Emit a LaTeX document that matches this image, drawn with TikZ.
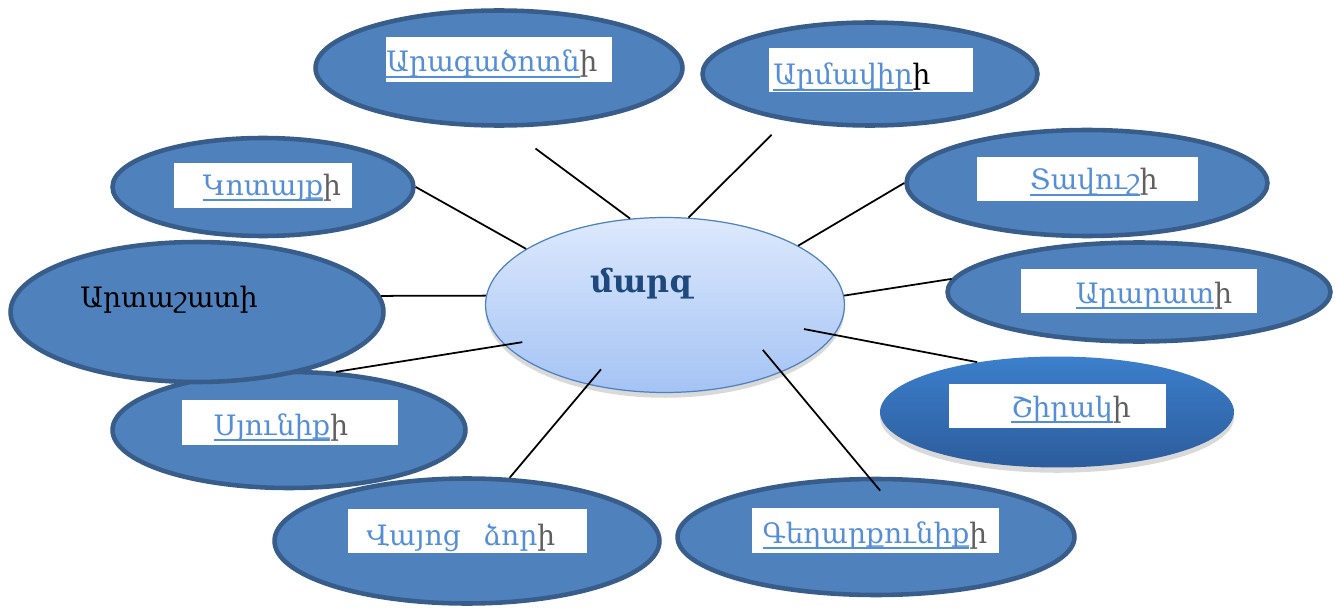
\documentclass[tikz,border=0pt]{standalone}
\usepackage{fontspec}
\setmainfont{DejaVu Serif}
\usetikzlibrary{shapes.geometric,shadows,calc}

\definecolor{regfill}{HTML}{4F81BD}
\definecolor{regline}{HTML}{385D8A}
\definecolor{linkblue}{HTML}{558ED5}
\definecolor{suffgray}{HTML}{5F5F5F}
\definecolor{marztext}{HTML}{1F497D}
\definecolor{marztop}{HTML}{DDE9FD}
\definecolor{marzbot}{HTML}{A4C3F4}
\definecolor{shirtop}{HTML}{3C7FCB}
\definecolor{shirbot}{HTML}{2C5C9C}

\newsavebox{\ulbox}
\newcommand{\ulword}[1]{\sbox{\ulbox}{#1}\rlap{\rule[-3.4pt]{\wd\ulbox}{1pt}}\usebox{\ulbox}}
\newcommand{\rgn}[3][suffgray]{\textcolor{linkblue}{\ulword{#2}}\textcolor{#1}{#3}}

\tikzset{
	region/.style={ellipse, fill=regfill, draw=regline, line width=2.6pt, inner sep=0pt},
	namebox/.style={fill=white, inner sep=0pt},
	regtext/.style={anchor=base, inner sep=0pt, font=\fontsize{16}{19}\selectfont},
	spoke/.style={line width=1pt},
}

\begin{document}
\begin{tikzpicture}[x=0.02cm, y=-0.02cm]
	\useasboundingbox (0,0) rectangle (1336,608);
	%
	\node[region, minimum width=7.34cm, minimum height=2.30cm] (aragatsotn) at (499,68) {};
	\node[region, minimum width=6.70cm, minimum height=2.06cm] (armavir) at (870,74) {};
	\node[region, minimum width=6.02cm, minimum height=1.96cm] (kotayk) at (263,187) {};
	\node[region, minimum width=7.22cm, minimum height=2.12cm] (tavush) at (1087,183) {};
	\node[region, minimum width=7.66cm, minimum height=1.98cm] (ararat) at (1139,292) {};
	\node[region, minimum width=7.70cm, minimum height=2.50cm] (vayots) at (467,541) {};
	\node[region, minimum width=7.06cm, minimum height=2.32cm] (syunik) at (289,430) {};
	\node[region, minimum width=7.46cm, minimum height=2.80cm] (artashat) at (197,312) {};
	\node[region, minimum width=7.94cm, minimum height=2.32cm] (gegh) at (876,537) {};
	\node[ellipse, inner sep=0pt, minimum width=7.08cm, minimum height=2.22cm,
		top color=shirtop, bottom color=shirbot,
		drop shadow={shadow xshift=0pt, shadow yshift=-3pt, opacity=0.3}] (shirak) at (1057,412) {};
	\node[ellipse, inner sep=0pt, minimum width=7.18cm, minimum height=3.50cm,
		top color=marztop, bottom color=marzbot, draw=regfill, line width=0.7pt,
		drop shadow={shadow xshift=0pt, shadow yshift=-3pt, opacity=0.3}] (marz) at (665,305) {};
	%
	\node[namebox, minimum width=4.52cm, minimum height=0.90cm] (aragatsotn-b) at ($(aragatsotn)+(0,-8.5)$) {};
	\node[namebox, minimum width=4.08cm, minimum height=0.88cm] (armavir-b) at ($(armavir)+(1,-4)$) {};
	\node[namebox, minimum width=3.56cm, minimum height=0.90cm] (kotayk-b) at ($(kotayk)+(0,-1.5)$) {};
	\node[namebox, minimum width=4.42cm, minimum height=0.88cm] (tavush-b) at ($(tavush)+(0.5,-4)$) {};
	\node[namebox, minimum width=4.72cm, minimum height=0.88cm] (ararat-b) at ($(ararat)+(0,-1)$) {};
	\node[namebox, minimum width=4.32cm, minimum height=0.90cm] (syunik-b) at ($(syunik)+(1,-7.5)$) {};
	\node[namebox, minimum width=4.34cm, minimum height=0.88cm] (shirak-b) at ($(shirak)+(0.5,-6)$) {};
	\node[namebox, minimum width=4.78cm, minimum height=0.88cm] (vayots-b) at ($(vayots)+(0.5,-10)$) {};
	\node[namebox, minimum width=4.94cm, minimum height=0.90cm] (gegh-b) at ($(gegh)+(-0.5,-6.5)$) {};
	%
	\node[regtext] (aragatsotn-t) at (492,72) {\rgn{Արագածոտն}{ի}};
	\node[regtext] (armavir-t) at (852,85) {\rgn[black]{Արմավիր}{ի}};
	\node[regtext] (kotayk-t) at (272,195) {\rgn{Կոտայք}{ի}};
	\node[regtext] (tavush-t) at (1094,190) {\rgn{Տավուշ}{ի}};
	\node[regtext] (ararat-t) at (1154,303) {\rgn{Արարատ}{ի}};
	\node[regtext] (syunik-t) at (281,435) {\rgn{Սյունիք}{ի}};
	\node[regtext] (shirak-t) at (1071,417) {\rgn{Շիրակ}{ի}};
	\node[regtext] (vayots-t) at (461,545) {\textcolor{linkblue}{Վայոց\hspace{0.8em}ձոր}\textcolor{suffgray}{ի}};
	\node[regtext] (gegh-t) at (875,543) {\rgn{Գեղարքունիք}{ի}};
	\node[regtext] (artashat-t) at (169,307) {Արտաշատի};
	\node[anchor=base, inner sep=0pt, font=\fontsize{18}{22}\selectfont\bfseries, text=marztext] (marz-t) at (642,292) {մարզ};
	%
	\draw[spoke] (artashat.5) -- (marz.177);
	\draw[spoke] (kotayk.east) -- (marz.158);
	\draw[spoke, shorten <=0.7cm] (aragatsotn.-82) -- (marz.112);
	\draw[spoke, shorten <=0.4cm] (armavir.209) -- (marz.75);
	\draw[spoke] (tavush.west) -- (marz.24);
	\draw[spoke] (ararat.176) -- (marz.3);
	\draw[spoke, shorten >=-0.62cm] (shirak.148) -- (marz.-10);
	\draw[spoke, shorten <=-0.36cm, shorten >=-0.58cm] (gegh.97) -- (marz.-30);
	\draw[spoke, shorten >=-0.4cm] (vayots.56) -- (marz.-134);
	\draw[spoke, shorten >=-0.36cm] (syunik.51) -- (marz.-166);
\end{tikzpicture}
\end{document}
